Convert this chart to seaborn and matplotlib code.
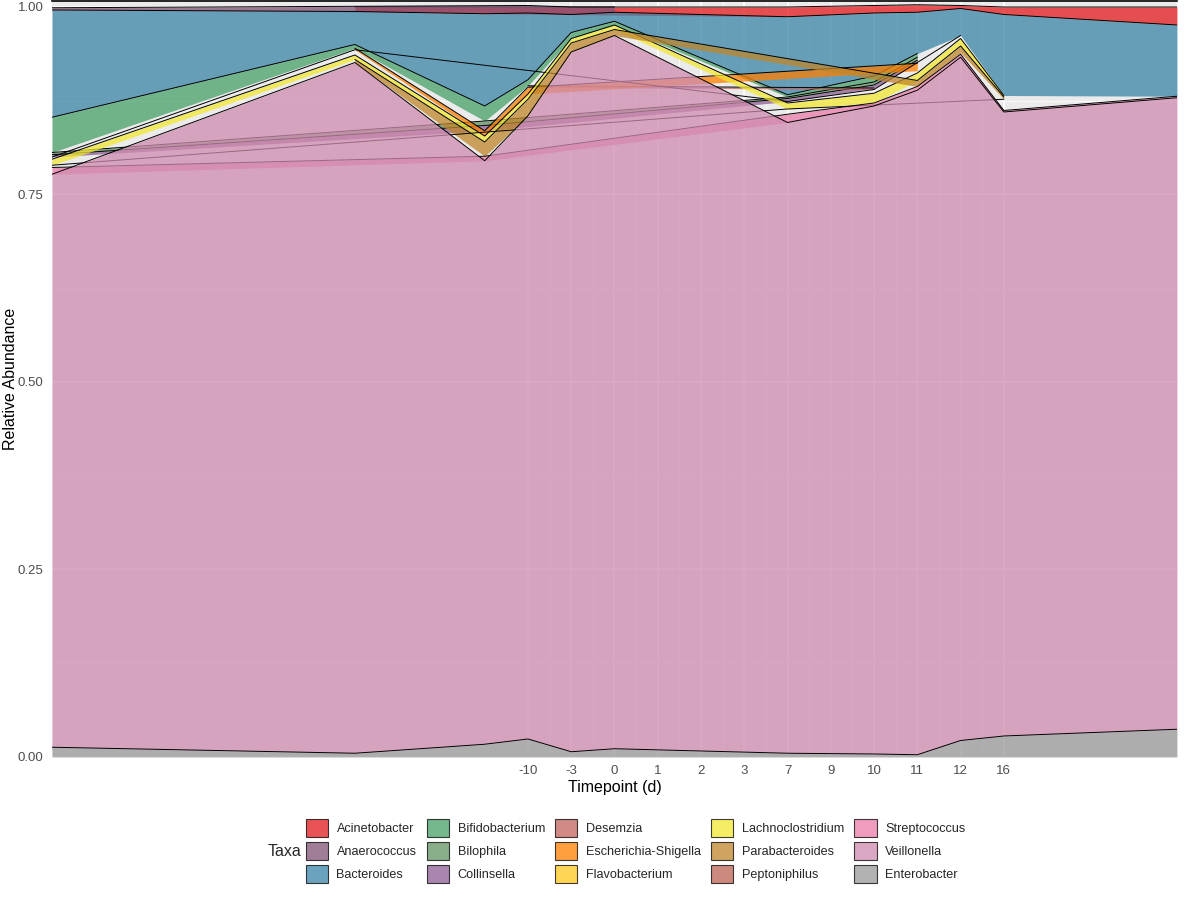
import numpy as np
import pandas as pd
import seaborn as sns
import matplotlib.pyplot as plt
from matplotlib.patches import Patch

# sampling days (x positions of the data) and the labels put on the x axis
timepoints = [-10, -3, 0, 1, 2, 3, 7, 9, 10, 11, 12, 16]
tick_labels = ["-10", "-3", "0", "1", "2", "3", "7", "9", "10", "11", "12", "16"]
tick_breaks = list(range(1, 13))

nan = np.nan
# relative abundance per taxon and timepoint, NaN = taxon not found at that day
acinetobacter = [nan, .006, .009, nan, nan, nan, .013, .010, .010, .004, .010, .024]
anaerococcus = [.003, nan, nan, .010, .010, .007, nan, nan, nan, nan, nan, nan]
bacteroides = [.143, .044, .123, .089, .024, .012, .104, .084, .055, .036, .108, .095]
bifidobacterium = [.047, .005, .020, .008, .008, .005, .003, .008, .005, nan, nan, nan]
bilophila = [.003, nan, .006, nan, nan, nan, .002, .004, .004, nan, nan, nan]
collinsella = [.003, nan, .007, nan, nan, nan, .004, .004, .004, nan, nan, nan]
desemzia = [nan, nan, nan, .002, nan, nan, nan, .002, nan, nan, nan, nan]
escherichia = [nan, .002, .007, .009, nan, nan, nan, nan, .010, nan, nan, nan]
flavobacterium = [nan, nan, nan, nan, nan, nan, nan, nan, .003, nan, nan, nan]
unclassified = [.003, .007, nan, nan, nan, nan, .002, .005, nan, .004, nan, nan]
lachnoclostridium = [.008, .006, .008, .007, .006, .006, .008, .013, .010, .010, .002, nan]
parabacteroides = [nan, .004, .019, .022, .012, .008, nan, nan, .008, .009, .003, nan]
peptoniphilus = [nan, nan, nan, nan, nan, nan, nan, nan, nan, .002, nan, nan]
other = [.003, nan, nan, nan, nan, nan, .007, nan, nan, nan, .015, nan]
streptococcus = [.009, nan, .006, nan, nan, nan, .011, .004, .005, .004, .002, .002]
veillonella = [.764, .921, .778, .831, .933, .951, .841, .864, .886, .911, .832, .842]
enterobacter = [.013, .005, .017, .024, .007, .011, .005, .004, .003, .022, .028, .037]

# top of the stack first (same as the legend), unlisted taxa have no fill
taxa = [
    ("Acinetobacter", acinetobacter, "#E41A1C"),
    ("Anaerococcus", anaerococcus, "#815375"),
    ("Bacteroides", bacteroides, "#3A85A8"),
    ("Bifidobacterium", bifidobacterium, "#47A169"),
    ("Bilophila", bilophila, "#629363"),
    ("Collinsella", collinsella, "#8D5C96"),
    ("Desemzia", desemzia, "#C4635D"),
    ("Escherichia-Shigella", escherichia, "#FF7F00"),
    ("Flavobacterium", flavobacterium, "#FFC81D"),
    ("Unclassified", unclassified, None),
    ("Lachnoclostridium", lachnoclostridium, "#F2E731"),
    ("Parabacteroides", parabacteroides, "#BF862B"),
    ("Peptoniphilus", peptoniphilus, "#BD6253"),
    ("Other", other, None),
    ("Streptococcus", streptococcus, "#EB7BA9"),
    ("Veillonella", veillonella, "#CF8BAF"),
    ("Enterobacter", enterobacter, "#999999"),
]


def build_table(taxa):
    rows = []
    for level, (name, vals, col) in enumerate(taxa):
        for day, v in zip(timepoints, vals):
            if not np.isnan(v):
                rows.append({"taxon": name, "level": level, "day": day, "abund": v})
    df = pd.DataFrame(rows)
    # stack per day, last level at the bottom
    df = df.sort_values(["day", "level"], ascending=[True, False])
    df["ymax"] = df.groupby("day")["abund"].cumsum()
    df["ymin"] = df["ymax"] - df["abund"]
    return df.sort_values(["level", "day"])


df = build_table(taxa)

sns.set_theme(style="darkgrid", rc={
    "axes.facecolor": "#EBEBEB",
    "grid.color": "white",
    "figure.facecolor": "white",
})
plt.rcParams["font.family"] = ["Liberation Sans", "DejaVu Sans"]

fig = plt.figure(figsize=(11.88, 9), dpi=100)
ax = fig.add_axes([0.0438, 0.1589, 0.9469, 0.8400])

z = 2
for name, vals, col in taxa:
    sub = df[df["taxon"] == name]
    if col is not None:
        ax.fill_between(sub["day"], sub["ymin"], sub["ymax"], facecolor=col,
                        alpha=0.75, lw=0, zorder=z)
    sns.lineplot(data=sub, x="day", y="ymax", color="black", lw=0.7,
                 estimator=None, sort=True, ax=ax, zorder=z + 0.5)
    z += 1

ax.set_xlim(-10, 16)
ax.set_ylim(0, 1.008)
ax.set_xticks(tick_breaks)
ax.set_xticklabels(tick_labels)
ax.set_xticks([b + 0.5 for b in tick_breaks[:-1]], minor=True)
ax.set_yticks([0, 0.25, 0.5, 0.75, 1.0])
ax.set_yticklabels(["0.00", "0.25", "0.50", "0.75", "1.00"])
ax.set_yticks([0.125, 0.375, 0.625, 0.875], minor=True)
ax.grid(which="major", color="white", lw=1.1)
ax.grid(which="minor", color="white", lw=0.5)
ax.tick_params(axis="both", which="major", labelsize=9.5, colors="#4D4D4D",
               length=3, width=0.8, pad=3)
ax.tick_params(axis="both", which="minor", length=0)
ax.set_xlabel("Timepoint (d)", fontsize=11.5, color="black", labelpad=2)
ax.set_ylabel("Relative Abundance", fontsize=11.5, color="black")
ax.yaxis.set_label_coords(-0.0305, 0.5)
for side in ["left", "right", "bottom"]:
    ax.spines[side].set_visible(False)
ax.spines["top"].set_visible(True)
ax.spines["top"].set_color("black")
ax.spines["top"].set_linewidth(1.2)

handles = [Patch(facecolor=col, alpha=0.75, edgecolor="black", lw=0.8, label=name)
           for name, vals, col in taxa if col is not None]
fig.legend(handles=handles, ncol=5, loc="center", bbox_to_anchor=(0.535, 0.0544),
           frameon=False, fontsize=9.1, handlelength=1.75, handleheight=1.75,
           handletextpad=0.7, columnspacing=0.8, labelspacing=0.45)
fig.text(0.2256, 0.0544, "Taxa", fontsize=11.5, va="center", ha="left")

fig.savefig("out.png", dpi=100)
